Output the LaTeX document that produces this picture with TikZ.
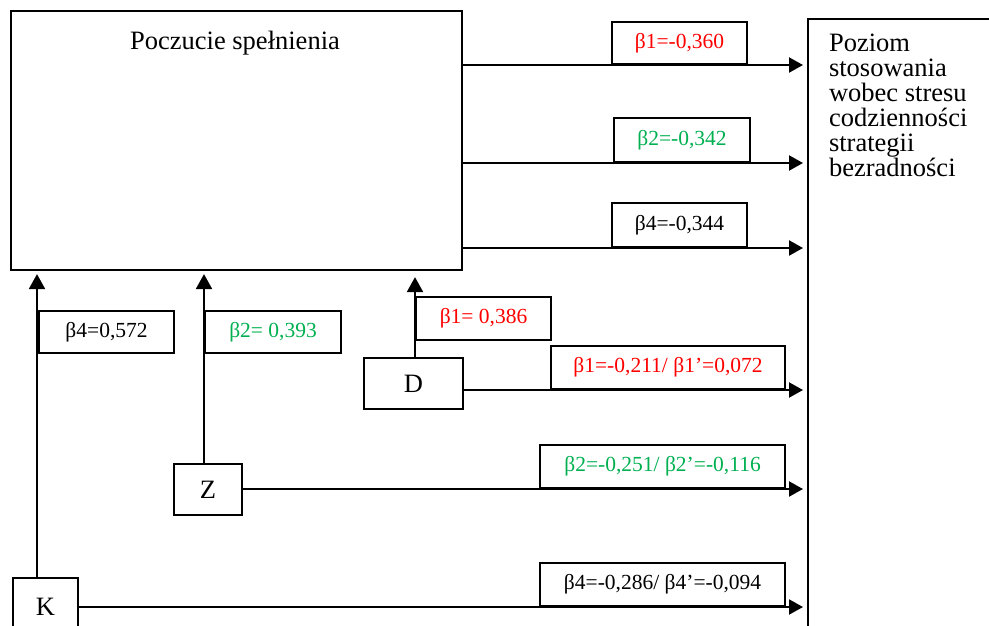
\documentclass[tikz,border=0pt]{standalone}
\usepackage{fontspec}
\setmainfont{Liberation Serif}
\usetikzlibrary{arrows.meta}
\definecolor{betared}{RGB}{255,0,0}
\definecolor{betagreen}{RGB}{0,176,80}
\begin{document}
\begin{tikzpicture}[x=1pt,y=-1pt,
  line width=2.1pt,
  boxed/.style={draw, rectangle, inner sep=0pt, anchor=north west,
    font=\fontsize{26.5}{25}\selectfont},
  plain/.style={inner sep=0pt, font=\fontsize{26.5}{25}\selectfont},
  coef/.style={draw, rectangle, inner sep=0pt,
    font=\fontsize{21.5}{24}\selectfont},
  arr/.style={-{Triangle[length=14pt,width=15pt]}},
  uparr/.style={-{Triangle[length=15pt,width=16pt]}},
]
\useasboundingbox (0,0) rectangle (989,625);

% outcome and mediator boxes
\node[boxed, minimum width=451, minimum height=259] (ps) at (10,10) {};
\node[plain] (pstitle) at (235,43) {Poczucie spełnienia};
\node[boxed, minimum width=300, minimum height=700] (pr) at (807,18) {};
\node[plain, anchor=north west, align=left] (prtext) at (828,33)
  {Poziom\\stosowania\\wobec stresu\\codzienności\\strategii\\bezradności};

% predictor boxes
\node[boxed, minimum width=99, minimum height=51] (nd) at (363,357) {D};
\node[boxed, minimum width=68, minimum height=51] (nz) at (173,463) {Z};
\node[boxed, minimum width=65, minimum height=58] (nk) at (12,577) {K};

% mediator -> outcome
\draw[arr, shorten >=4pt] (ps.east |- 0,65)  -- (pr.west |- 0,65);
\draw[arr, shorten >=4pt] (ps.east |- 0,163) -- (pr.west |- 0,163);
\draw[arr, shorten >=4pt] (ps.east |- 0,248) -- (pr.west |- 0,248);

% predictors -> outcome
\draw[arr, shorten >=4pt] (nd.east |- 0,390) -- (pr.west |- 0,390);
\draw[arr, shorten >=4pt] (nz.east |- 0,489) -- (pr.west |- 0,489);
\draw[arr, shorten >=4pt] (nk.east |- 0,607) -- (pr.west |- 0,607);

% predictors -> mediator
\draw[uparr, shorten >=3pt] (nk.north -| 37,0)  -- (ps.south -| 37,0);
\draw[uparr, shorten >=3pt] (nz.north -| 204,0) -- (ps.south -| 204,0);
\draw[uparr, shorten >=6pt] (nd.north -| 415,0) -- (ps.south -| 415,0);

% coefficients on the horizontal paths
\node[coef, anchor=south west, minimum width=135, minimum height=42, text=betared]   (c1) at (611,65)  {β1=-0,360};
\node[coef, anchor=south west, minimum width=136, minimum height=44, text=betagreen] (c2) at (613,163) {β2=-0,342};
\node[coef, anchor=south west, minimum width=135, minimum height=44]                  (c3) at (611,248) {β4=-0,344};
\node[coef, anchor=south west, minimum width=234, minimum height=43, text=betared]   (cd) at (550,390) {β1=-0,211/ β1’=0,072};
\node[coef, anchor=south west, minimum width=245, minimum height=43, text=betagreen] (cz) at (539,489) {β2=-0,251/ β2’=-0,116};
\node[coef, anchor=south west, minimum width=245, minimum height=43]                  (ck) at (539,607) {β4=-0,286/ β4’=-0,094};

% coefficients on the vertical paths
\node[coef, anchor=north west, minimum width=135, minimum height=42]                  (vk) at (38,310)  {β4=0,572};
\node[coef, anchor=north west, minimum width=136, minimum height=42, text=betagreen] (vz) at (204,310) {β2= 0,393};
\node[coef, anchor=north west, minimum width=135, minimum height=43, text=betared]   (vd) at (415,296) {β1= 0,386};
\end{tikzpicture}
\end{document}
